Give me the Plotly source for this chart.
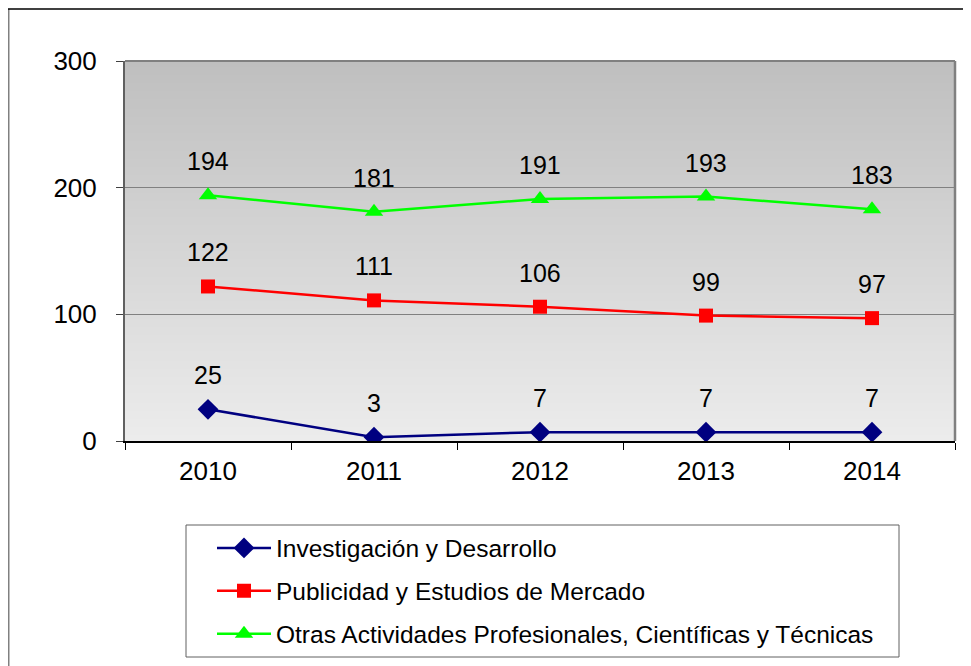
import plotly.graph_objects as go

years = ["2010", "2011", "2012", "2013", "2014"]
inv_desarrollo = [25, 3, 7, 7, 7]
publicidad = [122, 111, 106, 99, 97]
otras = [194, 181, 191, 193, 183]

series = [
    ("Investigación y Desarrollo", inv_desarrollo, "#000080", "diamond", 16),
    ("Publicidad y Estudios de Mercado", publicidad, "#ff0000", "square", 14),
    ("Otras Actividades Profesionales, Científicas y Técnicas", otras, "#00ff00", "triangle-up", 16),
]

FONT = "Arial, Liberation Sans, sans-serif"
W, H = 971, 666
OFF = 8  # page body margin
ML, MR, MT, MB = 117, 24, 53, 233
PW, PH = W - ML - MR, H - MT - MB

def px_x(p):  # screen px -> paper
    return (p - OFF - ML) / PW

def px_y(p):
    return (H - MB - (p - OFF)) / PH

fig = go.Figure()
for i, (name, vals, color, sym, size) in enumerate(series):
    fig.add_trace(go.Scatter(
        x=years, y=vals, name=name, mode="lines+markers",
        line=dict(color=color, width=2.5),
        marker=dict(symbol=sym, size=size, color=color),
        legendgroup=f"g{i}",
    ))
    for idx, yv in enumerate(vals):
        fig.add_annotation(x=idx, y=yv, xref="x", yref="y", text=str(yv), showarrow=False,
                           yshift=34, font=dict(size=25, color="black", family=FONT))

# gradient background in plot area
shapes = []
n = 190
top = (191, 191, 191)
bot = (236, 236, 236)
for k in range(n):
    t = k / (n - 1)
    c = tuple(int(round(top[j] + (bot[j] - top[j]) * t)) for j in range(3))
    shapes.append(dict(type="rect", xref="x domain", yref="y domain",
                       x0=0, x1=1, y0=1 - (k + 1) / n, y1=1 - k / n,
                       fillcolor=f"rgb{c}", line=dict(width=0), layer="below"))
# top & right border of plot area
shapes.append(dict(type="line", xref="x domain", yref="y domain", x0=1, x1=1, y0=0, y1=1,
                   line=dict(color="#808080", width=2.5)))
shapes.append(dict(type="line", xref="x domain", yref="y domain", x0=0, x1=1, y0=1, y1=1,
                   line=dict(color="#808080", width=2)))
# outer frame (left and top)
shapes.append(dict(type="line", xref="paper", yref="paper", x0=px_x(8.5), x1=px_x(8.5),
                   y0=px_y(9), y1=px_y(680), line=dict(color="#808080", width=2)))
shapes.append(dict(type="line", xref="paper", yref="paper", x0=px_x(8), x1=px_x(990),
                   y0=px_y(9), y1=px_y(9), line=dict(color="black", width=1.5)))
# legend box
shapes.append(dict(type="rect", xref="paper", yref="paper", x0=px_x(186), x1=px_x(899),
                   y0=px_y(657), y1=px_y(525), line=dict(color="#606060", width=1),
                   fillcolor="white", layer="below"))

fig.update_layout(
    width=W, height=H,
    margin=dict(l=ML, r=MR, t=MT, b=MB),
    paper_bgcolor="white", plot_bgcolor="rgba(0,0,0,0)",
    font=dict(family=FONT, size=26, color="black"),
    shapes=shapes,
    showlegend=True,
    legend=dict(x=px_x(212), y=px_y(525.5), xanchor="left", yanchor="top",
                bgcolor="rgba(0,0,0,0)", borderwidth=0,
                font=dict(size=24.5, family=FONT, color="black"),
                traceorder="grouped", tracegroupgap=8, itemwidth=54),
)
fig.update_xaxes(type="category", range=[-0.5, 4.5], tickson="boundaries",
                 ticks="outside", ticklen=7, tickcolor="black", showline=True,
                 linecolor="black", linewidth=1.5, showgrid=False,
                 ticklabelstandoff=6,
                 tickfont=dict(size=26, family=FONT))
fig.update_yaxes(range=[0, 300], dtick=100, ticks="outside", ticklen=7, tickcolor="#404040",
                 showline=True, linecolor="#606060", linewidth=2, showgrid=True,
                 gridcolor="#808080", gridwidth=1.2, zeroline=False,
                 ticklabelstandoff=14,
                 tickfont=dict(size=26, family=FONT))

fig.write_html("out.html")
